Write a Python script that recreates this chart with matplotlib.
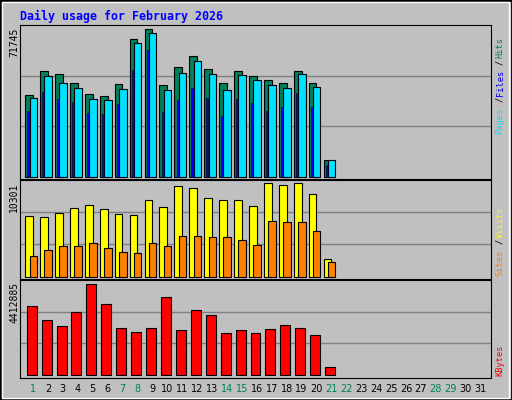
import matplotlib
matplotlib.use("Agg")
import matplotlib.pyplot as plt
from matplotlib.patches import Rectangle
import numpy as np

days = list(range(1, 32))
weekend = [1, 7, 8, 14, 15, 21, 22, 28, 29]
hits = [38645, 50050, 48620, 44345, 39120, 38170, 43870, 65250, 70000, 43395, 51950,
        57175, 51000, 44345, 50050, 47670, 45770, 44345, 50050, 44345, 7760]
files = [37220, 47670, 44345, 41970, 36745, 36270, 41495, 63350, 68100, 41020, 49100,
         54800, 48620, 41020, 48150, 45770, 43395, 41970, 48620, 42445, 7760]
pages = [31040, 40070, 36745, 35320, 30090, 29615, 34370, 50520, 60030, 30570, 36270,
         41970, 37220, 28665, 36745, 34845, 31040, 32940, 39595, 32940, 5385]
visits = [6434, 6325, 6759, 7301, 7626, 7193, 6650, 6542, 8168, 7409, 9687,
          9470, 8385, 8168, 8168, 7518, 10012, 9795, 10012, 8819, 1880]
sites = [2205, 2855, 3289, 3289, 3614, 3072, 2638, 2530, 3614, 3289, 4373,
         4373, 4265, 4265, 3940, 3398, 5891, 5783, 5783, 4916, 1554]
kbytes = [3220e3, 2570e3, 2291e3, 2942e3, 4242e3, 3313e3, 2198e3, 2012e3, 2198e3, 3639e3, 2105e3,
          3034e3, 2803e3, 1966e3, 2105e3, 1966e3, 2152e3, 2338e3, 2198e3, 1873e3, 387e3]
max_hits, max_visits, max_kb = 71745, 10301, 4412885

BG = "#c0c0c0"
fig = plt.figure(figsize=(5.12, 4.0), dpi=100, facecolor=BG)
fig.patches.append(Rectangle((0, 0), 1, 1, transform=fig.transFigure, fill=False,
                             edgecolor="black", lw=2))
fig.patches.append(Rectangle((0.004, 0.006), 0.99, 0.988, transform=fig.transFigure, fill=False,
                             edgecolor="white", lw=1))

L, W = 20 / 512, 471 / 512
def py(p):
    return 1 - p / 400

ax1 = fig.add_axes([L, py(179), W, 154 / 400])
ax2 = fig.add_axes([L, py(279), W, 99 / 400])
ax3 = fig.add_axes([L, py(378), W, 98 / 400])

n = len(hits)
x = np.arange(1, n + 1)

def setup(ax, m, margin):
    ax.set_facecolor(BG)
    ax.set_xlim(0.13, 31.7)
    ax.set_ylim(-margin * m, m)
    for g in (m / 3, 2 * m / 3):
        ax.axhline(g, color="#808080", lw=1, zorder=0)
    ax.set_xticks([]); ax.set_yticks([])
    for s in ax.spines.values():
        s.set_color("black")

setup(ax1, max_hits, 0.015)
ax1.bar(x - 0.52, hits, width=0.52, align="edge", color="#00805c", edgecolor="black", lw=0.8)
ax1.bar(x - 0.23, files, width=0.5, align="edge", color="#00e0ff", edgecolor="black", lw=0.8)
ax1.bar(x - 0.38, pages, width=0.14, align="edge", color="#0000ff", edgecolor="black", lw=0.4)

setup(ax2, max_visits, 0.024)
ax2.bar(x - 0.52, visits, width=0.52, align="edge", color="#ffff00", edgecolor="black", lw=0.8)
ax2.bar(x - 0.23, sites, width=0.5, align="edge", color="#ff8000", edgecolor="black", lw=0.8)

setup(ax3, max_kb, 0.029)
ax3.bar(x - 0.42, kbytes, width=0.67, align="edge", color="#ff0000", edgecolor="black", lw=0.8)

mono = "DejaVu Sans Mono"
fig.text(20 / 512, py(16), "Daily usage for February 2026", color="#0000ff",
         family=mono, fontweight="bold", fontsize=8.4, va="center", ha="left")

for val, top in ((max_hits, 28), (max_visits, 183), (max_kb, 282)):
    fig.text(14 / 512, py(top), str(val), rotation=90, family=mono, fontsize=7,
             va="top", ha="center", color="black")

def side(parts, bottom, step):
    y = bottom
    for txt, col in parts:
        fig.text(500 / 512, py(y), txt, rotation=90, family=mono, fontsize=6.2,
                 color=col, va="bottom", ha="center")
        y -= step * len(txt)

side([("Pages", "#00e0ff"), ("/", "black"), ("Files", "#0000ff"), ("/", "black"),
      ("Hits", "#00805c")], 134, 6.3)
side([("Sites", "#ff8000"), ("/", "black"), ("Visits", "#ffff00")], 276, 6.3)
side([("KBytes", "#ff0000")], 376, 6)

for d in days:
    xp = (33 + (d - 1) * 14.92) / 512
    fig.text(xp, py(389), str(d), ha="center", va="center", fontsize=7,
             color="#00805c" if d in weekend else "black")

fig.savefig("out.png", dpi=100, facecolor=BG)
